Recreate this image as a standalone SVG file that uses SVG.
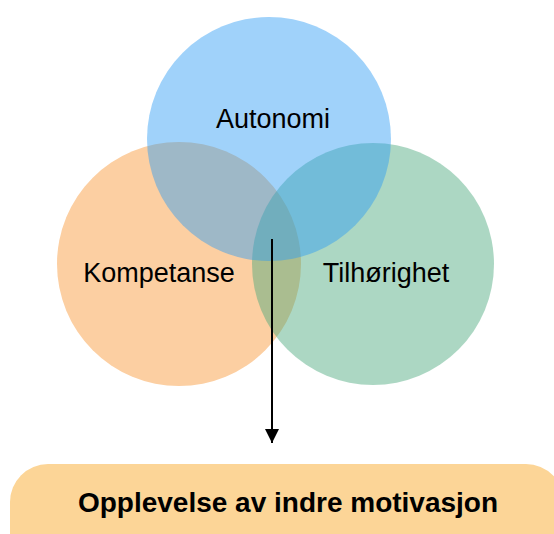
<svg xmlns="http://www.w3.org/2000/svg" width="554" height="534" viewBox="0 0 554 534">
<style>
.lbl{font-family:"Liberation Sans",Arial,Helvetica,sans-serif;font-size:27px;fill:#000;text-anchor:middle}
.out{font-family:"Liberation Sans",Arial,Helvetica,sans-serif;font-size:28px;font-weight:bold;fill:#000;text-anchor:middle}
</style>
<defs>
<marker id="ah" viewBox="0 0 10 10" refX="10" refY="5" markerWidth="7" markerHeight="7" markerUnits="strokeWidth" orient="auto">
<path d="M0,0 L10,5 L0,10 z" fill="#000"/>
</marker>
</defs>
<rect width="554" height="534" fill="#fff"/>
<g id="kompetanse">
<circle cx="179" cy="264" r="122" fill="#fccfa2"/>
</g>
<g id="tilhorighet">
<circle cx="373" cy="264" r="121" fill="#47a77a" fill-opacity="0.45"/>
</g>
<g id="autonomi">
<circle cx="269" cy="139" r="122" fill="#2c9bf4" fill-opacity="0.45"/>
</g>
<g id="labels">
<text class="lbl" x="273" y="128">Autonomi</text>
<text class="lbl" x="159" y="282">Kompetanse</text>
<text class="lbl" x="386" y="282">Tilhørighet</text>
</g>
<g id="connectors">
<line x1="272" y1="239" x2="272" y2="443" stroke="#000" stroke-width="2" marker-end="url(#ah)"/>
</g>
<g id="resultat">
<rect x="10" y="464" width="554" height="110" rx="38" ry="38" fill="#fcd597"/>
<text class="out" x="288" y="512">Opplevelse av indre motivasjon</text>
</g>
</svg>
